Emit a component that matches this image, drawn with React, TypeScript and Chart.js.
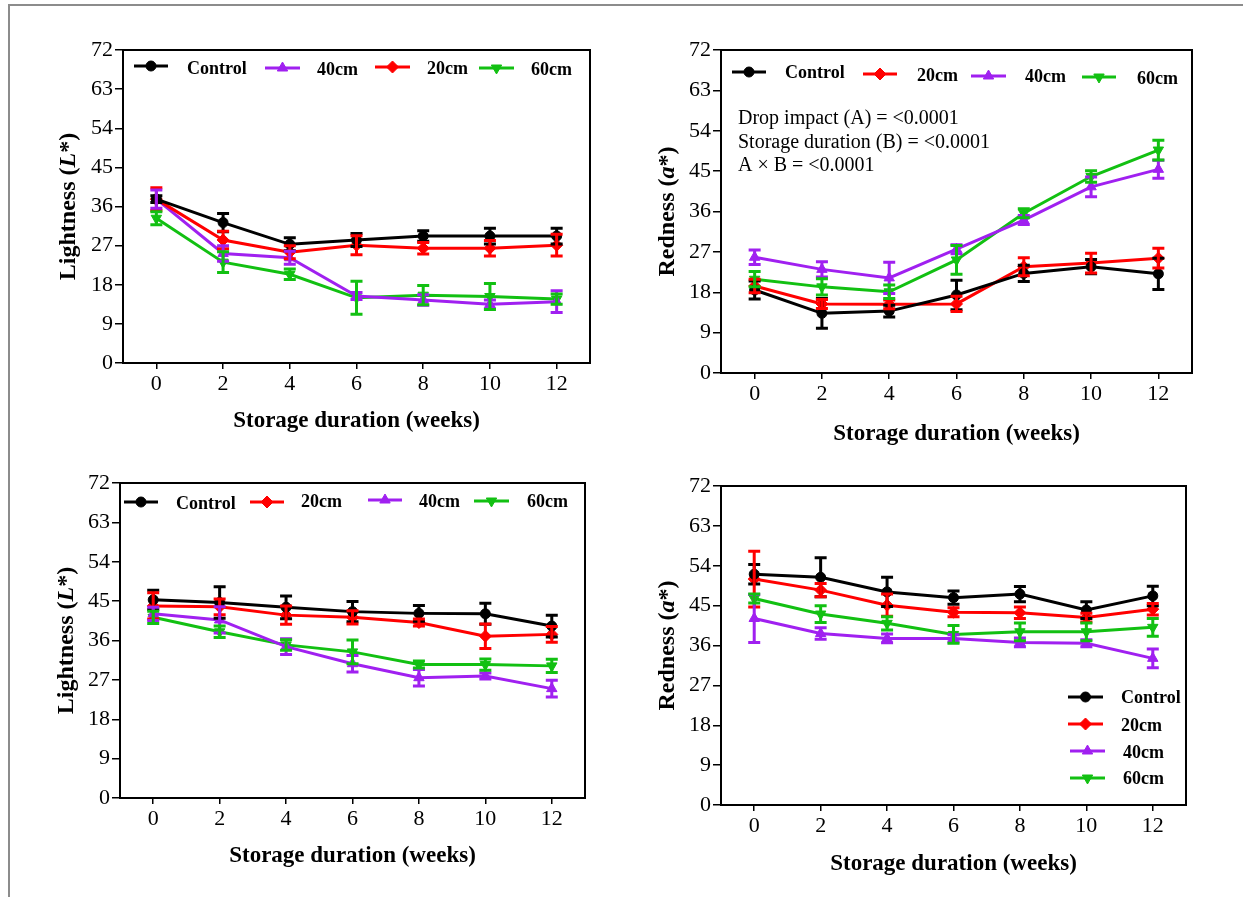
import React, { useEffect, useRef } from "react";
import { Chart, registerables } from "chart.js";
import { drawPoint } from "chart.js/helpers";
Chart.register(...registerables);

const weeks = [0, 2, 4, 6, 8, 10, 12];
const seriesNames = ["Control", "20cm", "40cm", "60cm"];
const seriesColors = ["#000000", "#ff0000", "#a020f0", "#12c012"];
const seriesStyles = ["circle", "rectRot", "triangle", "triangle"];
const seriesRotation = [0, 0, 0, 180];
const seriesRadius = [5, 6, 6, 6];
const xTitle = "Storage duration (weeks)";

// Panel A: Lightness (top)
const lightTopControl = [37.7, 32.3, 27.3, 28.3, 29.2, 29.2, 29.2];
const lightTopControlErr = [0.8, 2.1, 1.5, 1.5, 1.2, 1.8, 1.8];
const lightTop20 = [37.7, 28.3, 25.5, 27.1, 26.4, 26.4, 27.1];
const lightTop20Err = [2.6, 2.0, 1.5, 2.2, 1.3, 1.8, 2.5];
const lightTop40 = [37.7, 25.2, 24.2, 15.4, 14.5, 13.5, 14.1];
const lightTop40Err = [2.1, 1.8, 1.5, 0.8, 1.2, 1.0, 2.5];
const lightTop60 = [33.3, 23.2, 20.4, 15.0, 15.6, 15.3, 14.7];
const lightTop60Err = [1.5, 2.4, 1.2, 3.8, 2.2, 3.0, 1.2];

// Panel B: Redness (top)
const redTopControl = [18.5, 13.3, 13.8, 17.4, 22.2, 23.7, 22.1];
const redTopControlErr = [2.0, 3.3, 1.3, 3.3, 1.8, 1.6, 3.5];
const redTop20 = [19.4, 15.4, 15.3, 15.4, 23.7, 24.5, 25.6];
const redTop20Err = [1.5, 1.0, 1.0, 1.7, 2.0, 2.2, 2.2];
const redTop40 = [25.8, 23.1, 21.2, 27.6, 34.1, 41.5, 45.4];
const redTop40Err = [1.6, 1.7, 3.5, 1.0, 1.0, 2.2, 2.0];
const redTop60 = [20.9, 19.2, 18.1, 25.2, 35.6, 43.8, 49.7];
const redTop60Err = [1.7, 1.8, 1.5, 3.2, 1.0, 1.3, 2.2];

// Panel C: Lightness (bottom)
const lightBotControl = [45.3, 44.7, 43.6, 42.6, 42.2, 42.1, 39.3];
const lightBotControlErr = [2.2, 3.6, 2.6, 2.3, 1.8, 2.4, 2.5];
const lightBot20 = [43.9, 43.7, 41.8, 41.3, 40.1, 37.0, 37.4];
const lightBot20Err = [3.0, 1.8, 2.1, 1.5, 0.8, 2.8, 1.8];
const lightBot40 = [42.1, 40.7, 34.6, 30.7, 27.5, 27.9, 25.0];
const lightBot40Err = [1.5, 3.0, 1.8, 1.9, 1.9, 0.7, 1.9];
const lightBot60 = [41.3, 38.0, 35.0, 33.4, 30.5, 30.5, 30.2];
const lightBot60Err = [1.4, 1.3, 1.2, 2.7, 0.8, 1.3, 1.5];

// Panel D: Redness (bottom)
const redBotControl = [52.1, 51.4, 48.1, 46.8, 47.6, 44.0, 47.2];
const redBotControlErr = [2.2, 4.4, 3.3, 1.5, 1.7, 1.9, 2.2];
const redBot20 = [51.0, 48.5, 45.1, 43.5, 43.4, 42.3, 44.2];
const redBot20Err = [6.3, 1.5, 2.5, 1.0, 1.3, 1.0, 1.3];
const redBot40 = [42.1, 38.7, 37.6, 37.6, 36.7, 36.5, 33.1];
const redBot40Err = [5.4, 1.3, 1.0, 0.8, 1.0, 0.8, 2.1];
const redBot60 = [46.6, 43.1, 41.0, 38.5, 39.1, 39.1, 40.1];
const redBot60Err = [1.0, 1.9, 1.5, 2.0, 2.0, 2.0, 2.0];

const annotationLines = [
  "Drop impact (A) = <0.0001",
  "Storage duration (B) = <0.0001",
  "A \u00d7 B = <0.0001",
];

const SERIF = '"Liberation Serif", "Times New Roman", serif';
const Y_W = 50;
const X_H = 50;

type LegendItem = { s: number; x1: number; x2: number; y: number; tx: number; ty: number };
type Panel = {
  box: { x: number; y: number; w: number; h: number };
  area: { l: number; r: number; t: number; b: number };
  yTitle: { t: string; i: boolean }[];
  yTitleX: number;
  xTitleY: number;
  values: number[][];
  errors: number[][];
  legend: LegendItem[];
  annotation?: { x: number; y: number[] };
};

const lightTitle = [
  { t: "Lightness (", i: false },
  { t: "L", i: true },
  { t: "*)", i: false },
];
const redTitle = [
  { t: "Redness (", i: false },
  { t: "a", i: true },
  { t: "*)", i: false },
];

const panels: Panel[] = [
  {
    box: { x: 0, y: 0, w: 620, h: 450 },
    area: { l: 123, r: 590, t: 50, b: 363 },
    yTitle: lightTitle,
    yTitleX: 75,
    xTitleY: 427,
    values: [lightTopControl, lightTop20, lightTop40, lightTop60],
    errors: [lightTopControlErr, lightTop20Err, lightTop40Err, lightTop60Err],
    legend: [
      { s: 0, x1: 134, x2: 168, y: 66, tx: 187, ty: 69 },
      { s: 2, x1: 265, x2: 300, y: 68, tx: 317, ty: 70 },
      { s: 1, x1: 375, x2: 410, y: 67, tx: 427, ty: 69 },
      { s: 3, x1: 479, x2: 514, y: 68, tx: 531, ty: 70 },
    ],
  },
  {
    box: { x: 620, y: 0, w: 623, h: 450 },
    area: { l: 721, r: 1192, t: 50, b: 373 },
    yTitle: redTitle,
    yTitleX: 674,
    xTitleY: 440,
    values: [redTopControl, redTop20, redTop40, redTop60],
    errors: [redTopControlErr, redTop20Err, redTop40Err, redTop60Err],
    legend: [
      { s: 0, x1: 732, x2: 766, y: 72, tx: 785, ty: 73 },
      { s: 1, x1: 863, x2: 897, y: 74, tx: 917, ty: 76 },
      { s: 2, x1: 971, x2: 1006, y: 76, tx: 1025, ty: 77 },
      { s: 3, x1: 1082, x2: 1116, y: 77, tx: 1137, ty: 79 },
    ],
    annotation: { x: 738, y: [119, 143, 166] },
  },
  {
    box: { x: 0, y: 450, w: 620, h: 447 },
    area: { l: 120, r: 585, t: 483, b: 798 },
    yTitle: lightTitle,
    yTitleX: 73,
    xTitleY: 862,
    values: [lightBotControl, lightBot20, lightBot40, lightBot60],
    errors: [lightBotControlErr, lightBot20Err, lightBot40Err, lightBot60Err],
    legend: [
      { s: 0, x1: 124, x2: 158, y: 502, tx: 176, ty: 504 },
      { s: 1, x1: 250, x2: 284, y: 502, tx: 301, ty: 502 },
      { s: 2, x1: 368, x2: 402, y: 500, tx: 419, ty: 502 },
      { s: 3, x1: 474, x2: 509, y: 501, tx: 527, ty: 502 },
    ],
  },
  {
    box: { x: 620, y: 450, w: 623, h: 447 },
    area: { l: 721, r: 1186, t: 486, b: 805 },
    yTitle: redTitle,
    yTitleX: 674,
    xTitleY: 870,
    values: [redBotControl, redBot20, redBot40, redBot60],
    errors: [redBotControlErr, redBot20Err, redBot40Err, redBot60Err],
    legend: [
      { s: 0, x1: 1068, x2: 1103, y: 697, tx: 1121, ty: 698 },
      { s: 1, x1: 1068, x2: 1103, y: 724, tx: 1121, ty: 726 },
      { s: 2, x1: 1070, x2: 1105, y: 751, tx: 1123, ty: 753 },
      { s: 3, x1: 1070, x2: 1105, y: 778, tx: 1123, ty: 779 },
    ],
  },
];

function PanelChart({ p }: { p: Panel }) {
  const ref = useRef<HTMLCanvasElement | null>(null);
  useEffect(() => {
    if (!ref.current) return;
    const ox = p.box.x;
    const oy = p.box.y;

    const decor = {
      id: "decor",
      afterDatasetsDraw(chart: any) {
        const ctx = chart.ctx;
        const ys = chart.scales.y;
        ctx.save();
        chart.data.datasets.forEach((ds: any, di: number) => {
          const meta = chart.getDatasetMeta(di);
          const errs = p.errors[di];
          ctx.strokeStyle = seriesColors[di];
          ctx.lineWidth = 3;
          ctx.lineCap = "butt";
          meta.data.forEach((pt: any, j: number) => {
            const v = ds.data[j].y;
            const e = errs[j];
            const yt = ys.getPixelForValue(v + e);
            const yb = ys.getPixelForValue(v - e);
            const x = pt.x;
            ctx.beginPath();
            ctx.moveTo(x, yt);
            ctx.lineTo(x, yb);
            ctx.moveTo(x - 6, yt);
            ctx.lineTo(x + 6, yt);
            ctx.moveTo(x - 6, yb);
            ctx.lineTo(x + 6, yb);
            ctx.stroke();
          });
        });
        ctx.restore();
      },
      afterDraw(chart: any) {
        const ctx = chart.ctx;
        const a = chart.chartArea;
        ctx.save();
        // box border
        ctx.strokeStyle = "#000";
        ctx.lineWidth = 2;
        ctx.strokeRect(a.left, a.top, a.right - a.left, a.bottom - a.top);

        // y title
        ctx.fillStyle = "#000";
        ctx.textBaseline = "alphabetic";
        ctx.textAlign = "left";
        const fontFor = (it: boolean) => `${it ? "italic " : ""}bold 24px ${SERIF}`;
        let total = 0;
        p.yTitle.forEach((part) => {
          ctx.font = fontFor(part.i);
          total += ctx.measureText(part.t).width;
        });
        ctx.save();
        ctx.translate(p.yTitleX - ox, (a.top + a.bottom) / 2);
        ctx.rotate(-Math.PI / 2);
        let cx = -total / 2;
        p.yTitle.forEach((part) => {
          ctx.font = fontFor(part.i);
          ctx.fillText(part.t, cx, 0);
          cx += ctx.measureText(part.t).width;
        });
        ctx.restore();

        // x title
        ctx.font = `bold 23px ${SERIF}`;
        ctx.textAlign = "center";
        ctx.fillText(xTitle, (a.left + a.right) / 2, p.xTitleY - oy);

        // legend
        p.legend.forEach((it) => {
          const c = seriesColors[it.s];
          ctx.strokeStyle = c;
          ctx.fillStyle = c;
          ctx.lineWidth = 3;
          ctx.beginPath();
          ctx.moveTo(it.x1 - ox, it.y - oy);
          ctx.lineTo(it.x2 - ox, it.y - oy);
          ctx.stroke();
          ctx.lineWidth = 1;
          drawPoint(
            ctx,
            {
              pointStyle: seriesStyles[it.s],
              rotation: seriesRotation[it.s],
              radius: seriesRadius[it.s],
              borderWidth: 1,
            } as any,
            (it.x1 + it.x2) / 2 - ox,
            it.y - oy
          );
          ctx.fillStyle = "#000";
          ctx.font = `bold 18px ${SERIF}`;
          ctx.textAlign = "left";
          ctx.textBaseline = "middle";
          ctx.fillText(seriesNames[it.s], it.tx - ox, it.ty - oy);
        });

        // annotation
        if (p.annotation) {
          ctx.fillStyle = "#000";
          ctx.font = `20px ${SERIF}`;
          ctx.textAlign = "left";
          ctx.textBaseline = "middle";
          annotationLines.forEach((line, i) => {
            ctx.fillText(line, p.annotation!.x - ox, p.annotation!.y[i] - oy);
          });
        }
        ctx.restore();
      },
    };

    const tickFont = { family: SERIF, size: 22 };
    const chart = new Chart(ref.current, {
      type: "line",
      data: {
        datasets: p.values.map((vals, si) => ({
          label: seriesNames[si],
          data: weeks.map((w, i) => ({ x: w, y: vals[i] })),
          borderColor: seriesColors[si],
          backgroundColor: seriesColors[si],
          borderWidth: 3,
          pointStyle: seriesStyles[si] as any,
          pointRotation: seriesRotation[si],
          pointRadius: seriesRadius[si],
          pointBorderWidth: 1,
          tension: 0,
          fill: false,
        })),
      },
      options: {
        responsive: false,
        animation: false,
        layout: {
          padding: {
            left: p.area.l - ox - Y_W,
            top: p.area.t - oy,
            right: ox + p.box.w - p.area.r,
            bottom: oy + p.box.h - p.area.b - X_H,
          },
        },
        plugins: {
          legend: { display: false },
          title: { display: false },
          tooltip: { enabled: false },
        },
        scales: {
          x: {
            type: "linear",
            min: -1,
            max: 13,
            afterBuildTicks: (s: any) => {
              s.ticks = weeks.map((v) => ({ value: v }));
            },
            afterFit: (s: any) => {
              s.height = X_H;
            },
            grid: {
              drawOnChartArea: false,
              drawTicks: true,
              tickLength: 6,
              color: "#000",
              lineWidth: 1.5,
            },
            border: { display: true, color: "#000", width: 2 },
            ticks: {
              color: "#000",
              font: tickFont,
              padding: 2,
              maxRotation: 0,
              autoSkip: false,
            },
          },
          y: {
            min: 0,
            max: 72,
            afterFit: (s: any) => {
              s.width = Y_W;
            },
            grid: {
              drawOnChartArea: false,
              drawTicks: true,
              tickLength: 8,
              color: "#000",
              lineWidth: 1.5,
            },
            border: { display: true, color: "#000", width: 2 },
            ticks: {
              stepSize: 9,
              color: "#000",
              font: tickFont,
              padding: 2,
            },
          },
        },
      } as any,
      plugins: [decor],
    });
    return () => chart.destroy();
  }, [p]);

  return (
    <canvas
      ref={ref}
      width={p.box.w}
      height={p.box.h}
      style={{
        position: "absolute",
        left: p.box.x,
        top: p.box.y,
        width: p.box.w,
        height: p.box.h,
      }}
    />
  );
}

export default function App() {
  return (
    <div
      style={{
        position: "absolute",
        left: 0,
        top: 0,
        width: 1243,
        height: 897,
        background: "#fff",
        overflow: "hidden",
      }}
    >
      <div
        style={{
          position: "absolute",
          left: 8,
          top: 4,
          width: 1240,
          height: 900,
          borderTop: "2px solid #8c8c8c",
          borderLeft: "2px solid #8c8c8c",
        }}
      />
      {panels.map((p, i) => (
        <PanelChart key={i} p={p} />
      ))}
    </div>
  );
}
